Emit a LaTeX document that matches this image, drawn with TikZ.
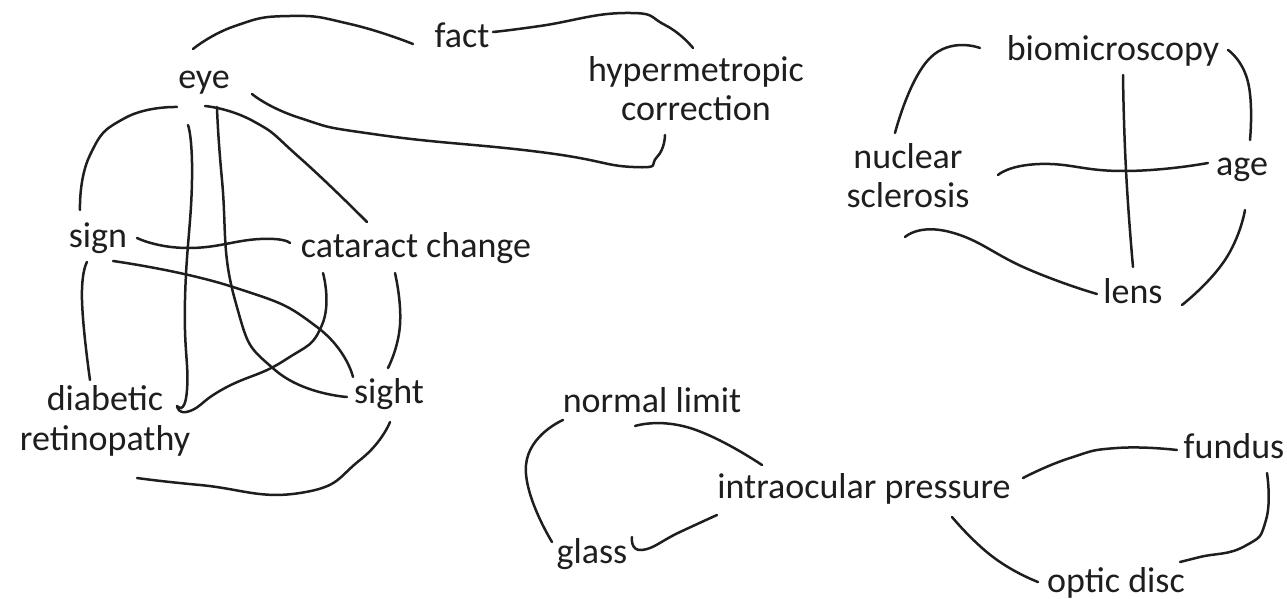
\documentclass[tikz,border=0pt]{standalone}
\usepackage{fontspec}
\setmainfont{Carlito}
\usetikzlibrary{positioning}
\definecolor{ink}{HTML}{1E1E1E}
\tikzset{
    % hand drawn connector
    link/.style={
           draw=ink,
           line width=1.25pt,
           line cap=round,
           smooth,
           tension=0.9,}
}
\newcommand{\termfont}{\fontsize{18}{20}\selectfont}

\begin{document}
\begin{tikzpicture}[x=0.5pt, y=-0.5pt, outer sep=0pt]
\tikzstyle{term}=[inner sep=0pt, anchor=base, text=ink, align=center, font=\termfont]

\useasboundingbox (0,0) rectangle (1287,599);

% eye cluster
\node[term] (eye)      at (204,89)  {eye};
\node[term] (fact)     at (462,48)  {fact};
\node[term] (hyper)    at (696,121) {hypermetropic\\correction};
\node[term] (sign)     at (98,248)  {sign};
\node[term] (cataract) at (416,257) {cataract change};
\node[term] (diabetic) at (105,450) {diabetic\\retinopathy};
\node[term] (sight)    at (389,403) {sight};

% lens cluster
\node[term] (biomic)   at (1113,61)  {biomicroscopy};
\node[term] (nuclear)  at (908,208)  {nuclear\\sclerosis};
\node[term] (age)      at (1242,176) {age};
\node[term] (lens)     at (1133,303) {lens};

% pressure cluster
\node[term] (normal)   at (652,412)  {normal limit};
\node[term] (iop)      at (864,498)  {intraocular pressure};
\node[term] (glass)    at (592,563)  {glass};
\node[term] (fundus)   at (1234,458) {fundus};
\node[term] (optic)    at (1116,592) {optic disc};

% free ends of the connectors
\coordinate (eye-fact)   at (193,49);   \coordinate (fact-eye)   at (413,44);
\coordinate (fact-hyper) at (493,32);   \coordinate (hyper-fact) at (693,48);
\coordinate (eye-hyper)  at (252,94);   \coordinate (hyper-eye)  at (665,135);
\coordinate (eye-sign)   at (177,107);  \coordinate (sign-eye)   at (80,210);
\coordinate (eye-diab)   at (188,125);  \coordinate (diab-hook)  at (177,406);
\coordinate (cat-diab)   at (323,273);
\coordinate (eye-sight)  at (217,107);  \coordinate (sight-eye)  at (347,397);
\coordinate (eye-cat)    at (205,106);  \coordinate (cat-eye)    at (367,222);
\coordinate (sign-cat)   at (137,238);  \coordinate (cat-sign)   at (290,243);
\coordinate (sign-sight) at (113,261);  \coordinate (sight-sign) at (353,377);
\coordinate (sign-diab)  at (87,262);   \coordinate (diab-sign)  at (90,380);
\coordinate (cat-sight)  at (395,273);  \coordinate (sight-cat)  at (388,368);
\coordinate (sight-diab) at (390,422);  \coordinate (diab-sight) at (137,478);

\coordinate (bio-nuc)    at (980,48);   \coordinate (nuc-bio)    at (895,133);
\coordinate (bio-age)    at (1228,50);  \coordinate (age-bio)    at (1250,140);
\coordinate (bio-lens)   at (1123,75);  \coordinate (lens-bio)   at (1133,267);
\coordinate (nuc-age)    at (998,175);  \coordinate (age-nuc)    at (1208,163);
\coordinate (nuc-lens)   at (905,237);  \coordinate (lens-nuc)   at (1097,294);
\coordinate (age-lens)   at (1245,210); \coordinate (lens-age)   at (1182,305);

\coordinate (norm-glass) at (563,420);  \coordinate (glass-norm) at (552,542);
\coordinate (norm-iop)   at (635,426);  \coordinate (iop-norm)   at (762,465);
\coordinate (glass-iop)  at (632,537);  \coordinate (iop-glass)  at (717,515);
\coordinate (iop-fund)   at (1023,478); \coordinate (fund-iop)   at (1177,450);
\coordinate (iop-optic)  at (952,517);  \coordinate (optic-iop)  at (1038,582);
\coordinate (fund-optic) at (1267,473); \coordinate (optic-fund) at (1180,562);

% eye cluster
\draw[link] plot coordinates {(eye-fact) (235,26) (290,16) (350,24) (fact-eye)};
\draw[link] plot coordinates {(fact-hyper) (540,26) (625,13) (665,25) (hyper-fact)};
\draw[link] plot coordinates {(eye-hyper) (300,118) (380,135) (540,152) (633,167) (657,157) (hyper-eye)};
\draw[link] plot coordinates {(eye-sign) (125,118) (90,155) (sign-eye)};
\draw[link] plot coordinates {(eye-diab) (192,180) (185,300) (187,390) (diab-hook)};
\draw[link] plot coordinates {(cat-diab) (322,325) (285,360) (225,388) (190,411) (diab-hook)};
\draw[link] plot coordinates {(eye-sight) (222,180) (235,300) (275,370) (sight-eye)};
\draw[link] plot coordinates {(eye-cat) (253,121) (300,158) (cat-eye)};
\draw[link] plot coordinates {(sign-cat) (187,248) (260,239) (cat-sign)};
\draw[link] plot coordinates {(sign-sight) (233,287) (317,327) (sight-sign)};
\draw[link] plot coordinates {(sign-diab) (82,300) (diab-sign)};
\draw[link] plot coordinates {(cat-sight) (400,325) (sight-cat)};
\draw[link] plot coordinates {(sight-diab) (360,460) (300,493) (200,485) (diab-sight)};

% lens cluster
\draw[link] plot coordinates {(bio-nuc) (930,58) (nuc-bio)};
\draw[link] plot coordinates {(bio-age) (1248,82) (age-bio)};
\draw[link] plot coordinates {(bio-lens) (1126,170) (lens-bio)};
\draw[link] plot coordinates {(nuc-age) (1040,164) (1125,171) (age-nuc)};
\draw[link] plot coordinates {(nuc-lens) (950,232) (1030,270) (lens-nuc)};
\draw[link] plot coordinates {(age-lens) (1225,260) (lens-age)};

% pressure cluster
\draw[link] plot coordinates {(norm-glass) (526,465) (glass-norm)};
\draw[link] plot coordinates {(norm-iop) (690,428) (iop-norm)};
\draw[link] plot coordinates {(glass-iop) (642,550) (680,532) (iop-glass)};
\draw[link] plot coordinates {(iop-fund) (1070,458) (1117,448) (fund-iop)};
\draw[link] plot coordinates {(iop-optic) (993,557) (optic-iop)};
\draw[link] plot coordinates {(fund-optic) (1266,520) (1245,546) (1200,557) (optic-fund)};

\end{tikzpicture}
\end{document}
